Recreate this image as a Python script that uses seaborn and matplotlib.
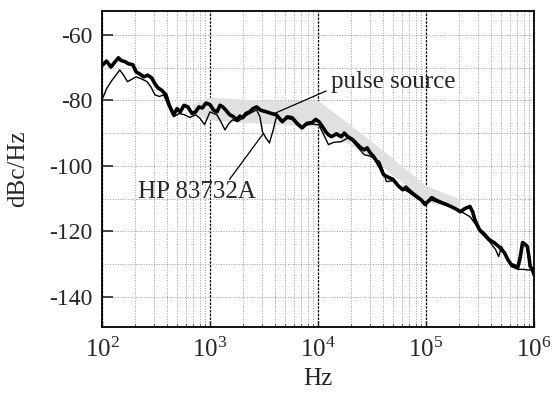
import numpy as np
import pandas as pd
import matplotlib
matplotlib.use('Agg')
import matplotlib.pyplot as plt
import seaborn as sns
from matplotlib.ticker import MultipleLocator, LogLocator, NullFormatter

# pulse source (thick trace)
pulse_f = [102, 110, 121, 130, 142, 150, 164, 175, 193, 207, 225, 244, 265, 288, 310, 331, 360, 391,
           420, 461, 495, 530, 575, 625, 680, 736, 790, 849, 920, 1000, 1080, 1160, 1240, 1315, 1420,
           1525, 1650, 1770, 1890, 2010, 2150, 2330, 2500, 2700, 2950, 3330, 3700, 4120, 4400, 4680,
           5200, 5770, 6400, 7120, 7900, 8810, 9500, 10200, 11000, 11800, 12500, 13300, 14800, 16400,
           17500, 18900, 21000, 23200, 25000, 26800, 28500, 30400, 32500, 35100, 37800, 40500, 45000,
           49700, 55000, 61000, 65000, 69000, 76000, 84900, 91000, 98000, 105000, 113000, 125000,
           139000, 155000, 170000, 190000, 208000, 230000, 255000, 270000, 283000, 313000, 350000,
           384000, 430000, 471000, 500000, 532000, 570000, 614000, 660000, 708000, 745000, 784000,
           830000, 868000, 900000, 922000, 960000, 1000000]
pulse_db = [-69.1, -68.0, -69.8, -68.5, -67.0, -67.8, -68.2, -68.8, -69.1, -71.3, -72.0, -72.8, -72.3,
            -73.1, -75.0, -76.2, -77.0, -78.3, -81.5, -84.4, -82.5, -83.5, -81.5, -82.0, -84.0, -83.5,
            -82.0, -82.3, -80.8, -81.3, -83.0, -83.5, -81.5, -82.0, -83.2, -84.4, -85.0, -85.9, -84.8,
            -85.3, -84.0, -83.5, -82.5, -82.0, -83.0, -83.5, -84.0, -84.4, -85.5, -86.5, -85.0, -85.3,
            -87.0, -88.4, -87.0, -86.8, -85.8, -86.5, -88.0, -89.6, -90.5, -91.1, -90.2, -91.1, -90.0,
            -91.1, -92.0, -93.5, -94.5, -95.1, -94.5, -96.0, -97.0, -98.7, -100.5, -102.7, -103.5,
            -104.2, -106.0, -107.3, -106.5, -107.3, -108.5, -109.7, -110.5, -111.8, -110.8, -109.7,
            -110.5, -111.2, -111.8, -112.4, -113.2, -114.0, -113.0, -112.4, -114.0, -116.4, -119.5,
            -121.0, -122.5, -123.5, -124.6, -125.5, -126.5, -128.5, -130.1, -130.5, -131.0, -128.0,
            -123.4, -124.0, -124.6, -128.0, -130.7, -131.5, -133.2]

# HP 83732A (thin trace)
hp_f = [102, 110, 121, 133, 146, 160, 172, 190, 207, 235, 262, 285, 309, 340, 373, 410, 461, 520, 582,
        650, 736, 810, 890, 1000, 1080, 1160, 1260, 1375, 1500, 1625, 1800, 2010, 2330, 2700, 2900,
        3060, 3300, 3550, 3850, 4120, 4680, 5200, 5770, 6400, 7120, 7900, 8810, 10200, 11300, 12500,
        14000, 16400, 18900, 21000, 23200, 26800, 30400, 34000, 37300, 40000, 43000, 49700, 55000,
        61000, 69000, 84900, 98000, 113000, 139000, 170000, 208000, 240000, 255000, 283000, 313000,
        384000, 440000, 471000, 500000, 540000, 614000, 708000, 800000, 900000, 1000000]
hp_db = [-79.2, -76.5, -74.3, -72.5, -70.7, -72.5, -74.3, -73.5, -72.8, -73.5, -74.3, -76.0, -78.3,
         -78.8, -78.3, -81.5, -85.0, -84.0, -84.4, -85.2, -84.4, -85.5, -87.4, -83.5, -84.0, -84.4,
         -86.5, -89.0, -87.0, -85.9, -86.5, -85.3, -84.0, -82.9, -85.0, -89.6, -91.5, -93.0, -89.0,
         -85.0, -86.5, -85.5, -85.8, -87.5, -88.4, -87.5, -87.2, -87.5, -90.5, -93.5, -92.8, -92.6,
         -91.5, -92.5, -94.2, -96.6, -97.0, -98.0, -98.7, -101.5, -104.8, -104.5, -106.0, -107.0,
         -108.0, -110.2, -111.0, -110.5, -111.5, -112.5, -113.8, -115.0, -115.5, -117.5, -120.0,
         -123.0, -125.5, -127.7, -124.6, -127.0, -130.7, -131.6, -131.6, -131.8, -131.6]

# grey halftone band behind the traces
band_f = [700, 1000, 3000, 10000, 30000, 100000, 200000]
band_lo = [-84, -86, -87, -88, -97, -111, -113]
band_hi = [-81, -79, -80, -80, -92, -106, -110]

x_ticks = [1e2, 1e3, 1e4, 1e5, 1e6]
y_ticks = [-60, -80, -100, -120, -140]

sns.set_style('ticks')
plt.rcParams['font.family'] = ['Liberation Serif', 'DejaVu Serif']
plt.rcParams['mathtext.fontset'] = 'custom'
plt.rcParams['mathtext.rm'] = 'Liberation Serif'
plt.rcParams['mathtext.it'] = 'Liberation Serif:italic'
plt.rcParams['axes.unicode_minus'] = False

fig = plt.figure(figsize=(5.52, 3.98), dpi=100)
ax = fig.add_axes([102 / 552, 71 / 398, 432 / 552, 316 / 398])

ax.fill_between(band_f, band_lo, band_hi, color='0.88', lw=0, zorder=1)

pulse = pd.DataFrame({'Hz': pulse_f, 'dB': pulse_db})
hp = pd.DataFrame({'Hz': hp_f, 'dB': hp_db})
sns.lineplot(data=hp, x='Hz', y='dB', color='black', lw=1.0, sort=False, estimator=None, ax=ax, zorder=3)
sns.lineplot(data=pulse, x='Hz', y='dB', color='black', lw=2.6, sort=False, estimator=None, ax=ax, zorder=4)

ax.set_xscale('log')
ax.set_xlim(1e2, 1e6)
ax.set_ylim(-149.2, -52.7)
ax.set_xticks(x_ticks)
ax.xaxis.set_minor_locator(LogLocator(base=10, subs=np.arange(2, 10)))
ax.xaxis.set_minor_formatter(NullFormatter())
ax.set_yticks(y_ticks)
ax.yaxis.set_minor_locator(MultipleLocator(10))

ax.grid(which='minor', axis='x', ls=':', color='0.6', lw=0.7)
ax.grid(which='major', axis='x', ls=(0, (2, 1)), color='black', lw=0.9)
ax.grid(which='both', axis='y', ls=':', color='0.6', lw=0.7)

ax.tick_params(axis='y', which='major', direction='in', length=8, width=1.2, labelsize=17, pad=7)
ax.tick_params(axis='y', which='minor', length=0)
ax.tick_params(axis='x', which='major', direction='in', length=4, width=1, labelsize=18, pad=8)
ax.tick_params(axis='x', which='minor', direction='in', length=2, width=0.6)
for s in ax.spines.values():
    s.set_linewidth(1.3)
    s.set_color('black')

ax.set_xlabel('Hz', fontsize=18, labelpad=4)
ax.set_ylabel('dBc/Hz', fontsize=18, labelpad=14)

ax.annotate('', xy=(3700, -84.4), xytext=(12540, -76.8),
            arrowprops=dict(arrowstyle='-', lw=0.9, color='black'))
ax.text(13300, -74.3, 'pulse source', fontsize=18, ha='left', va='center', zorder=5)
ax.annotate('', xy=(3200, -89.6), xytext=(1465, -104.8),
            arrowprops=dict(arrowstyle='-', lw=0.9, color='black'))
ax.text(217, -107.9, 'HP 83732A', fontsize=18, ha='left', va='center', zorder=5)

fig.savefig('out.png', dpi=100)
